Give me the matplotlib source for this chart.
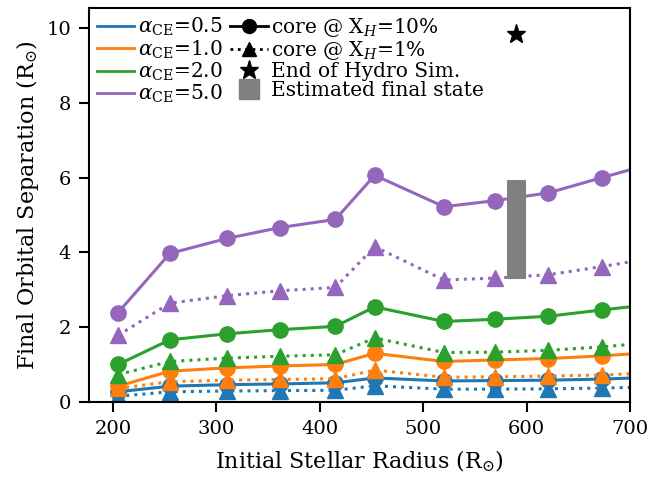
import numpy as np
import matplotlib
matplotlib.use('Agg')
import matplotlib.pyplot as plt
from matplotlib.lines import Line2D

plt.rcParams['font.family'] = 'DejaVu Serif'
plt.rcParams['mathtext.fontset'] = 'dejavuserif'

# Initial stellar radius (Rsun)
radius = [205, 255, 310, 361, 415, 453, 520, 569, 621, 673, 725]

alphas = ['0.5', '1.0', '2.0', '5.0']
colors = ['#1f77b4', '#ff7f0e', '#2ca02c', '#9467bd']

# final separation, core at X_H = 10%
sep_10 = {
    '0.5': [0.27, 0.42, 0.46, 0.48, 0.51, 0.64, 0.56, 0.57, 0.58, 0.61, 0.66],
    '1.0': [0.42, 0.82, 0.91, 0.96, 1.00, 1.30, 1.08, 1.12, 1.16, 1.23, 1.33],
    '2.0': [1.00, 1.66, 1.82, 1.93, 2.02, 2.54, 2.15, 2.21, 2.29, 2.46, 2.62],
    '5.0': [2.39, 3.97, 4.37, 4.66, 4.88, 6.06, 5.22, 5.38, 5.59, 6.00, 6.40],
}
# final separation, core at X_H = 1%
sep_1 = {
    '0.5': [0.15, 0.27, 0.29, 0.30, 0.31, 0.43, 0.34, 0.34, 0.35, 0.37, 0.40],
    '1.0': [0.36, 0.54, 0.58, 0.60, 0.62, 0.85, 0.66, 0.67, 0.69, 0.72, 0.78],
    '2.0': [0.73, 1.08, 1.17, 1.22, 1.26, 1.71, 1.32, 1.33, 1.38, 1.47, 1.60],
    '5.0': [1.78, 2.64, 2.84, 2.97, 3.06, 4.15, 3.26, 3.31, 3.40, 3.62, 3.86],
}

# end of hydro simulation
hydro_r = 590
hydro_a = 9.85
# estimated final state range
est_r = 590
est_lo, est_hi = 3.3, 5.9

fig = plt.figure(figsize=(6.51, 4.79), dpi=100)
ax = fig.add_axes([0.137, 0.161, 0.831, 0.822])

for a, c in zip(alphas, colors):
    ax.plot(radius, sep_10[a], '-o', color=c, lw=2.2, ms=11)
    ax.plot(radius, sep_1[a], ':^', color=c, lw=2.2, ms=11)

ax.plot(hydro_r, hydro_a, '*', color='k', ms=14)
ax.bar(est_r, est_hi - est_lo, bottom=est_lo, width=17, color='gray',
       edgecolor='gray', linewidth=1.5, joinstyle='round', zorder=5)

ax.set_xlim(177, 700)
ax.set_ylim(0, 10.53)
ax.set_xticks([200, 300, 400, 500, 600, 700])
ax.set_yticks([0, 2, 4, 6, 8, 10])
ax.set_xlabel(r'Initial Stellar Radius (R$_{\odot}$)', fontsize=16, labelpad=8)
ax.set_ylabel(r'Final Orbital Separation (R$_{\odot}$)', fontsize=16)
ax.tick_params(labelsize=14, length=7, width=1.5, pad=6)
for s in ax.spines.values():
    s.set_linewidth(1.5)

handles = [Line2D([], [], color=c, lw=2) for c in colors]
labels = [r'$\alpha_{\rm CE}$=' + a for a in alphas]
handles += [
    Line2D([], [], color='k', ls='-', marker='o', lw=2, ms=10),
    Line2D([], [], color='k', ls=':', marker='^', lw=2, ms=10),
    Line2D([], [], color='k', ls='', marker='*', ms=14),
    Line2D([], [], color='gray', ls='', marker='s', ms=15),
]
labels += [r'core @ X$_H$=10%', r'core @ X$_H$=1%', 'End of Hydro Sim.', 'Estimated final state']
ax.legend(handles, labels, ncol=2, frameon=False, loc='upper left', fontsize=14.5,
          handletextpad=0.15, columnspacing=0.4, labelspacing=0.0,
          borderaxespad=0.2, borderpad=0.2, handlelength=1.85)

fig.savefig('out.png', dpi=100)
